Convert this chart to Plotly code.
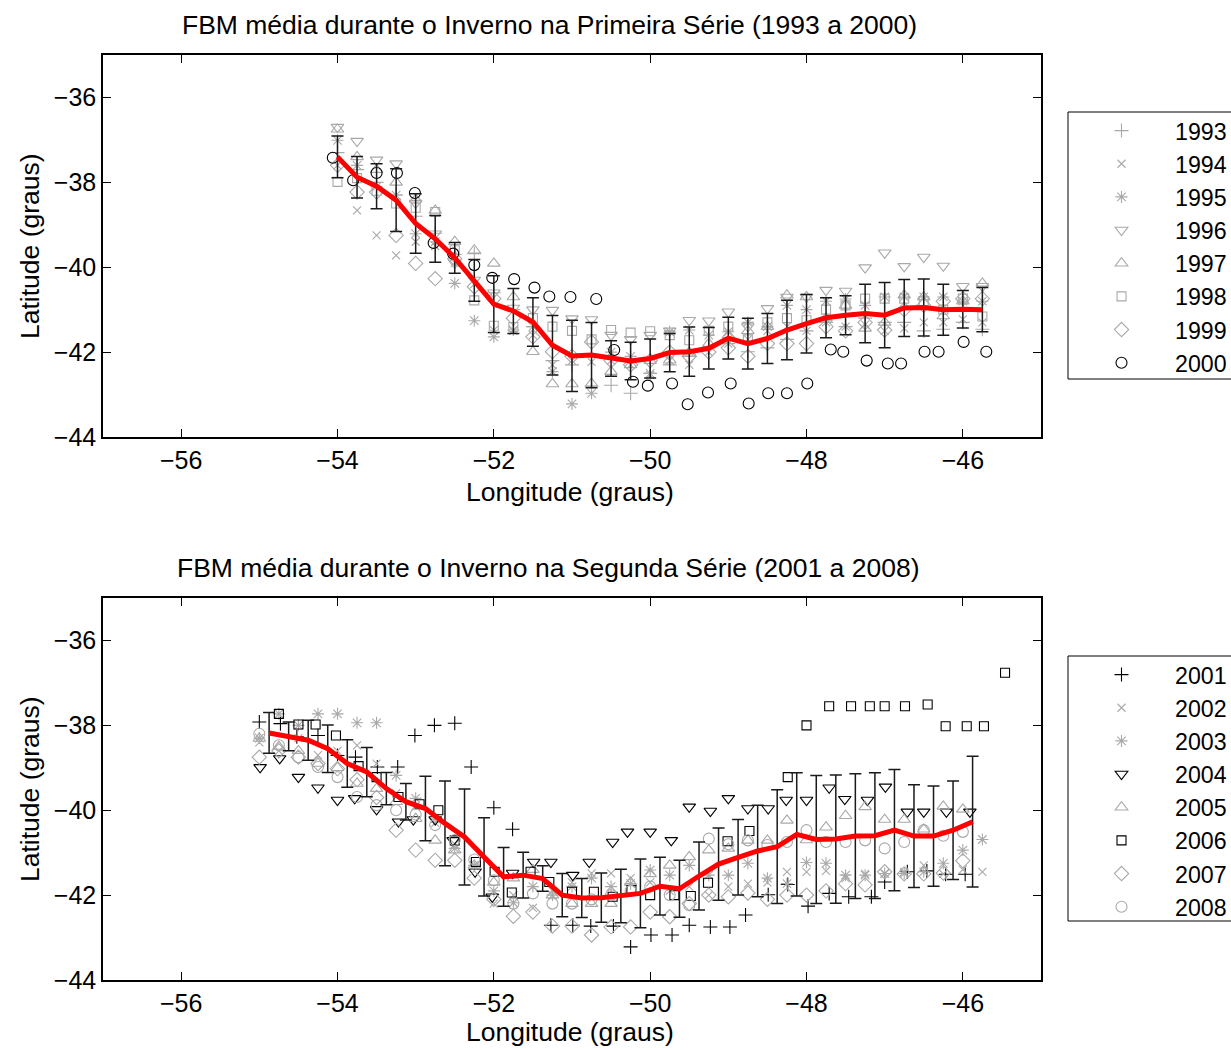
import plotly.graph_objects as go

# ---------------- TOP PANEL (1993-2000) ----------------
LON_T = [-54.00, -53.75, -53.50, -53.25, -53.00, -52.75, -52.50, -52.25, -52.00, -51.75,
         -51.50, -51.25, -51.00, -50.75, -50.50, -50.25, -50.00, -49.75, -49.50, -49.25,
         -49.00, -48.75, -48.50, -48.25, -48.00, -47.75, -47.50, -47.25, -47.00, -46.75,
         -46.50, -46.25, -46.00, -45.75]
MEAN_T = [-37.40, -37.88, -38.09, -38.42, -38.97, -39.33, -39.78, -40.31, -40.87, -41.03,
          -41.29, -41.84, -42.09, -42.07, -42.15, -42.21, -42.15, -42.01, -41.99, -41.91,
          -41.67, -41.80, -41.68, -41.48, -41.33, -41.19, -41.13, -41.09, -41.13, -40.96,
          -40.95, -41.00, -40.99, -41.00]
ERR_T = [0.49, 0.49, 0.53, 0.74, 0.70, 0.55, 0.36, 0.49, 0.67, 0.53,
         0.57, 0.70, 0.84, 0.77, 0.42, 0.44, 0.46, 0.45, 0.58, 0.49,
         0.49, 0.60, 0.59, 0.70, 0.69, 0.47, 0.46, 0.69, 0.77, 0.67,
         0.67, 0.60, 0.44, 0.52]
Y1993 = [-37.30, -37.70, -38.00, -38.30, -38.80, -39.20, -39.70, -39.68, -40.60, -41.00,
         -41.40, -42.20, -42.30, -42.80, -42.78, -42.97, -42.50, -42.30, -42.10, -41.90,
         -41.80, -41.99, -41.90, -41.70, -41.50, -41.30, -41.40, -41.20, -41.30, -41.30,
         -41.50, -41.46, -41.30, -41.46]
Y1994 = [-37.60, -38.66, -39.25, -39.72, -39.40, -39.50, -39.90, -40.40, -41.48, -41.50,
         -41.60, -42.30, -42.20, -42.23, -42.20, -42.30, -42.54, -42.20, -42.30, -42.00,
         -41.80, -41.70, -41.50, -41.40, -41.50, -41.30, -41.40, -41.35, -41.50, -41.44,
         -41.30, -41.30, -41.23, -41.30]
Y1995 = [-37.01, -37.60, -38.10, -38.30, -39.21, -39.40, -40.38, -41.26, -41.64, -41.48,
         -41.40, -42.46, -43.22, -42.97, -42.00, -42.10, -42.50, -41.52, -41.48, -41.60,
         -41.52, -41.30, -41.40, -40.90, -41.00, -40.80, -40.75, -40.90, -40.70, -40.70,
         -40.70, -40.70, -40.80, -40.80]
Y1996 = [-36.70, -37.03, -37.47, -37.56, -38.49, -39.21, -39.90, -40.30, -40.60, -40.96,
         -41.00, -41.01, -41.21, -41.23, -41.60, -41.70, -41.60, -41.50, -41.25, -41.26,
         -41.05, -41.40, -40.97, -40.70, -40.70, -40.54, -40.56, -40.01, -39.66, -39.98,
         -39.76, -39.97, -40.45, -40.45]
Y1997 = [-36.75, -37.40, -37.70, -38.00, -38.40, -38.66, -39.40, -39.60, -39.91, -40.70,
         -41.99, -42.75, -42.75, -42.74, -42.46, -42.30, -42.20, -42.19, -42.00, -41.80,
         -41.60, -41.50, -41.40, -40.66, -40.70, -41.20, -40.90, -41.44, -41.30, -40.66,
         -40.70, -41.15, -40.80, -40.38]
Y1998 = [-37.99, -37.90, -38.20, -38.50, -38.60, -38.70, -39.60, -40.78, -41.38, -41.41,
         -41.20, -41.40, -41.50, -41.70, -41.48, -41.54, -41.51, -41.60, -41.72, -41.50,
         -41.40, -41.70, -41.30, -41.20, -41.25, -41.00, -40.90, -40.74, -40.74, -40.74,
         -40.80, -41.00, -40.74, -41.16]
Y1999 = [-37.60, -38.23, -38.23, -39.25, -39.91, -40.27, -39.80, -40.46, -40.74, -41.20,
         -41.64, -41.99, -42.10, -41.76, -42.20, -42.30, -42.20, -42.00, -42.10, -42.00,
         -41.90, -42.10, -41.80, -41.80, -41.80, -41.40, -41.50, -41.30, -41.48, -41.00,
         -40.90, -40.80, -40.74, -40.74]
LON_2000 = [-54.06, -53.80, -53.50, -53.24, -53.01, -52.77, -52.52, -52.25, -52.02, -51.74,
            -51.48, -51.29, -51.02, -50.69, -50.46, -50.22, -50.03, -49.72, -49.52, -49.26,
            -48.97, -48.74, -48.49, -48.25, -47.99, -47.69, -47.53, -47.23, -46.96, -46.79,
            -46.49, -46.31, -45.99, -45.70]
Y2000 = [-37.42, -37.95, -37.78, -37.78, -38.25, -39.43, -39.68, -39.95, -40.25, -40.28,
         -40.48, -40.69, -40.70, -40.75, -41.95, -42.70, -42.79, -42.74, -43.23, -42.95,
         -42.74, -43.21, -42.97, -42.97, -42.74, -41.94, -41.99, -42.20, -42.27, -42.27,
         -41.99, -41.99, -41.76, -41.99]

# ---------------- BOTTOM PANEL (2001-2008) ----------------
LON_B_BAR = [-54.875, -54.625, -54.375, -54.125, -53.875, -53.625, -53.375, -53.125, -52.875,
             -52.625, -52.375, -52.125, -51.875, -51.625, -51.375, -51.125, -50.875, -50.625,
             -50.375, -50.125, -49.875, -49.625, -49.375, -49.125, -48.875, -48.625, -48.375,
             -48.125, -47.875, -47.625, -47.375, -47.125, -46.875, -46.625, -46.375, -46.125,
             -45.875]
MEAN_B = [-38.18, -38.26, -38.35, -38.55, -38.90, -39.10, -39.49, -39.80, -39.96, -40.31,
          -40.63, -41.10, -41.57, -41.53, -41.61, -42.00, -42.07, -42.06, -42.02, -41.96,
          -41.79, -41.85, -41.55, -41.27, -41.11, -40.96, -40.86, -40.57, -40.69, -40.68,
          -40.61, -40.60, -40.47, -40.61, -40.61, -40.47, -40.27]
ERR_B = [0.48, 0.34, 0.47, 0.56, 0.56, 0.58, 0.38, 0.43, 0.76, 1.00,
         1.13, 0.92, 0.69, 0.54, 0.30, 0.51, 0.46, 0.58, 0.63, 0.81,
         0.68, 0.67, 0.80, 0.85, 0.89, 1.08, 1.34, 1.45, 1.51, 1.51,
         1.47, 1.48, 1.43, 1.21, 1.18, 1.16, 1.54]
LON_B = [-55.00, -54.75, -54.50, -54.25, -54.00, -53.75, -53.50, -53.25, -53.00, -52.75,
         -52.50, -52.25, -52.00, -51.75, -51.50, -51.25, -51.00, -50.75, -50.50, -50.25,
         -50.00, -49.75, -49.50, -49.25, -49.00, -48.75, -48.50, -48.25, -48.00, -47.75,
         -47.50, -47.25, -47.00, -46.75, -46.50, -46.25, -46.00, -45.75]
Y2002 = [-38.40, -38.60, -38.30, -38.70, -38.60, -38.47, -38.90, -39.60, -39.90, -40.30,
         -40.80, -41.30, -42.20, -42.00, -42.30, -41.90, -41.70, -41.49, -41.49, -41.60,
         -41.70, -41.90, -41.80, -42.00, -41.80, -41.73, -41.70, -41.45, -41.45, -41.43,
         -41.60, -41.50, -41.50, -41.45, -41.30, -41.50, -41.40, -41.45]
Y2003 = [-38.30, -37.73, -38.00, -37.73, -37.73, -37.94, -37.94, -39.18, -39.72, -40.20,
         -40.90, -41.30, -41.90, -42.18, -41.80, -42.00, -41.80, -41.60, -41.80, -41.73,
         -41.41, -41.53, -41.30, -41.53, -41.53, -41.25, -41.60, -41.73, -41.23, -41.25,
         -41.53, -41.53, -41.49, -41.49, -41.45, -41.25, -40.94, -40.69]
Y2005 = [-38.31, -38.50, -38.60, -38.90, -39.00, -39.37, -39.49, -39.80, -40.20, -40.71,
         -40.94, -41.30, -41.70, -41.60, -41.40, -42.00, -42.20, -42.20, -42.20, -41.70,
         -41.50, -41.30, -41.10, -40.94, -40.90, -40.71, -40.71, -40.24, -40.70, -40.40,
         -40.13, -39.92, -40.22, -40.22, -40.45, -39.91, -39.98, None]
Y2007 = [-38.75, -38.60, -38.75, -38.90, -39.02, -39.28, -39.70, -40.47, -40.94, -41.18,
         -41.18, -41.60, -42.10, -42.50, -42.40, -42.73, -42.73, -42.94, -42.75, -42.75,
         -42.40, -42.51, -42.20, -42.00, -42.04, -41.95, -42.10, -42.00, -42.00, -41.90,
         -41.73, -41.76, -41.45, -41.50, -41.50, -41.48, -41.19, None]
Y2008 = [-38.20, -38.47, -38.75, -38.98, -39.22, -39.69, -39.88, -40.00, -40.10, -40.35,
         -40.70, -41.16, -41.65, -42.20, -41.96, -42.20, -42.20, -42.10, -42.00, -41.90,
         -41.80, -42.00, -42.24, -40.67, -40.80, -40.71, -40.82, -40.75, -40.47, -40.75,
         -40.75, -40.71, -40.90, -40.75, -40.47, -40.60, -40.51, None]
LON_2001 = [-55.00, -54.73, -54.52, -54.25, -54.00, -53.77, -53.49, -53.23, -53.01, -52.76,
            -52.50, -52.29, -52.00, -51.76, -51.27, -50.99, -50.76, -50.47, -50.25, -49.99,
            -49.72, -49.50, -49.23, -48.98, -48.78, -48.49, -48.24, -47.98, -47.71, -47.46,
            -47.17, -47.00, -46.71, -46.46, -46.22, -45.97]
Y2001 = [-37.92, -37.96, -38.27, -38.24, -38.71, -38.75, -38.98, -38.98, -38.24, -38.00,
         -37.95, -38.98, -39.94, -40.45, -42.71, -42.71, -42.73, -42.73, -43.22, -42.94,
         -42.94, -42.71, -42.75, -42.75, -42.47, -41.99, -41.75, -42.26, -41.96, -42.04,
         -42.04, -41.69, -41.45, -41.43, -41.51, -41.51]
LON_2004 = [-54.99, -54.74, -54.50, -54.25, -54.00, -53.78, -53.50, -53.22, -53.03, -52.75,
            -52.52, -52.24, -52.02, -51.76, -51.49, -51.27, -50.99, -50.78, -50.48, -50.29,
            -50.00, -49.73, -49.50, -49.23, -49.00, -48.75, -48.49, -48.26, -48.00, -47.71,
            -47.51, -47.22, -46.99, -46.71, -46.50, -46.21, -45.91]
Y2004 = [-38.99, -38.78, -39.22, -39.47, -39.76, -39.72, -39.98, -40.27, -40.22, -40.22,
         -40.71, -41.45, -42.04, -41.48, -41.22, -41.22, -41.53, -41.22, -40.75, -40.51,
         -40.51, -40.71, -39.92, -40.02, -39.72, -39.96, -39.96, -39.76, -39.76, -39.47,
         -39.74, -39.76, -39.45, -40.04, -40.04, -40.04, -40.04]
LON_2006 = [-54.75, -54.50, -54.28, -54.02, -53.73, -53.50, -53.22, -52.95, -52.71, -52.50,
            -52.23, -51.99, -51.77, -51.53, -51.29, -51.00, -50.72, -50.48, -50.24, -50.00,
            -49.69, -49.48, -49.26, -49.01, -48.73, -48.24, -48.00, -47.71, -47.43, -47.19,
            -47.00, -46.74, -46.45, -46.22, -45.95, -45.73, -45.46]
Y2006 = [-37.73, -37.98, -37.98, -38.24, -38.96, -39.22, -39.69, -39.86, -40.00, -40.71,
         -41.22, -41.45, -41.94, -41.45, -41.69, -41.92, -41.92, -42.04, -41.88, -42.00,
         -42.00, -42.02, -41.71, -40.73, -40.49, -39.22, -38.00, -37.55, -37.55, -37.55,
         -37.55, -37.55, -37.51, -38.02, -38.02, -38.02, -36.76]

XTICKS = [-56, -54, -52, -50, -48, -46]
YTICKS = [-44, -42, -40, -38, -36]

GRAY = "#a9a9a9"
BLACK = "#000000"
FONT = "Liberation Sans, Arial, Helvetica, sans-serif"

SYM = {
    "+": ("cross-thin-open", 10),
    "x": ("x-thin-open", 8),
    "*": ("asterisk-open", 10),
    "v": ("triangle-down-open", 11),
    "^": ("triangle-up-open", 11),
    "s": ("square-open", 9),
    "d": ("diamond-open", 11),
    "o": ("circle-open", 11),
}


def pts(x, y, name, sym, color, xa, ya, legend):
    s, size = SYM[sym]
    return go.Scatter(
        x=x, y=y, mode="markers", name=name,
        marker=dict(symbol=s, size=size, color=color, line=dict(color=color, width=1.1)),
        xaxis=xa, yaxis=ya, legend=legend,
    )


fig = go.Figure()

# top panel
top_series = [
    (LON_T, Y1993, "1993", "+", GRAY), (LON_T, Y1994, "1994", "x", GRAY),
    (LON_T, Y1995, "1995", "*", GRAY), (LON_T, Y1996, "1996", "v", GRAY),
    (LON_T, Y1997, "1997", "^", GRAY), (LON_T, Y1998, "1998", "s", GRAY),
    (LON_T, Y1999, "1999", "d", GRAY), (LON_2000, Y2000, "2000", "o", BLACK),
]
for x, y, n, s, c in top_series:
    fig.add_trace(pts(x, y, n, s, c, "x", "y", "legend"))

fig.add_trace(go.Scatter(
    x=LON_T, y=MEAN_T, mode="markers", showlegend=False,
    marker=dict(size=1, color="rgba(0,0,0,0)"),
    error_y=dict(type="data", array=ERR_T, color="#1a1a1a", thickness=1.5, width=6),
    xaxis="x", yaxis="y"))
fig.add_trace(go.Scatter(
    x=LON_T, y=MEAN_T, mode="lines", showlegend=False,
    line=dict(color="#ff0000", width=5), xaxis="x", yaxis="y"))

# bottom panel
bot_series = [
    (LON_2001, Y2001, "2001", "+", BLACK), (LON_B, Y2002, "2002", "x", GRAY),
    (LON_B, Y2003, "2003", "*", GRAY), (LON_2004, Y2004, "2004", "v", BLACK),
    (LON_B, Y2005, "2005", "^", GRAY), (LON_2006, Y2006, "2006", "s", BLACK),
    (LON_B, Y2007, "2007", "d", GRAY), (LON_B, Y2008, "2008", "o", GRAY),
]
for x, y, n, s, c in bot_series:
    fig.add_trace(pts(x, y, n, s, c, "x2", "y2", "legend2"))

fig.add_trace(go.Scatter(
    x=LON_B_BAR, y=MEAN_B, mode="markers", showlegend=False,
    marker=dict(size=1, color="rgba(0,0,0,0)"),
    error_y=dict(type="data", array=ERR_B, color="#1a1a1a", thickness=1.5, width=6),
    xaxis="x2", yaxis="y2"))
fig.add_trace(go.Scatter(
    x=LON_B_BAR, y=MEAN_B, mode="lines", showlegend=False,
    line=dict(color="#ff0000", width=5), xaxis="x2", yaxis="y2"))

axis_common = dict(
    showline=True, linecolor="black", linewidth=1.5, mirror="ticks",
    ticks="inside", ticklen=8, tickwidth=1, tickcolor="black",
    showgrid=False, zeroline=False, tickfont=dict(size=25, color="black", family=FONT),
)


def px2x(px):
    return (px - 103) / 938


def py2y(py):
    return (980 - py) / 925


leg_common = dict(
    xanchor="left", yanchor="top", x=px2x(1068),
    borderwidth=0, bgcolor="rgba(0,0,0,0)",
    font=dict(size=23.2, color="black", family=FONT), itemwidth=97, tracegroupgap=0,
)

# legend frames (they run past the right edge of the page, as in the original)
shapes = [
    dict(type="rect", xref="paper", yref="paper", x0=px2x(1068), x1=px2x(1250),
         y0=py2y(379), y1=py2y(112), line=dict(color="black", width=1), fillcolor="white"),
    dict(type="rect", xref="paper", yref="paper", x0=px2x(1068), x1=px2x(1250),
         y0=py2y(921), y1=py2y(656), line=dict(color="black", width=1), fillcolor="white"),
]

ann_font = dict(size=26.5, color="black", family=FONT)
annotations = [
    dict(text="FBM média durante o Inverno na Primeira Série (1993 a 2000)",
         x=px2x(549), y=py2y(25)),
    dict(text="FBM média durante o Inverno na Segunda Série (2001 a 2008)",
         x=px2x(548), y=py2y(568)),
    dict(text="Longitude (graus)", x=px2x(570), y=py2y(492)),
    dict(text="Longitude (graus)", x=px2x(570), y=py2y(1032)),
    dict(text="Latitude (graus)", x=px2x(30), y=py2y(246), textangle=-90),
    dict(text="Latitude (graus)", x=px2x(30), y=py2y(789), textangle=-90),
]
for a in annotations:
    a.update(xref="paper", yref="paper", showarrow=False, font=ann_font,
             xanchor="center", yanchor="middle")

fig.update_layout(
    width=1231, height=1050,
    margin=dict(l=103, r=190, t=55, b=70, autoexpand=False),
    paper_bgcolor="white", plot_bgcolor="white",
    font=dict(family=FONT, color="black"),
    xaxis=dict(domain=[0, 1], anchor="y", range=[-57, -45], tickvals=XTICKS, **axis_common),
    yaxis=dict(domain=[py2y(437), 1], anchor="x", range=[-44, -35], tickvals=YTICKS, **axis_common),
    xaxis2=dict(domain=[0, 1], anchor="y2", range=[-57, -45], tickvals=XTICKS, **axis_common),
    yaxis2=dict(domain=[0, py2y(598)], anchor="x2", range=[-44, -35], tickvals=YTICKS, **axis_common),
    legend=dict(y=py2y(109), **leg_common),
    legend2=dict(y=py2y(653), **leg_common),
    shapes=shapes,
    annotations=annotations,
)

fig.write_html("out.html")
